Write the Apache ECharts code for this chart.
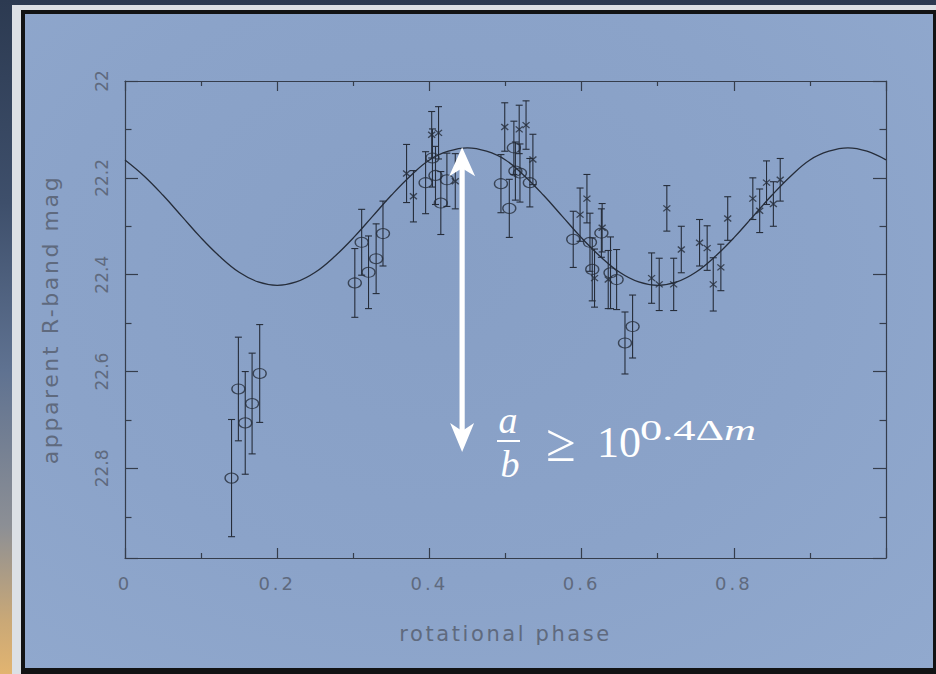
<!DOCTYPE html>
<html>
<head>
<meta charset="utf-8">
<script src="https://cdn.jsdelivr.net/npm/echarts@6/dist/echarts.min.js"></script>
<style>
html, body { margin: 0; padding: 0; }
body { width: 936px; height: 674px; position: relative; overflow: hidden;
  background: linear-gradient(to bottom, #2c3a51 0%, #3e4f6b 30%, #5f7291 55%, #8c8f95 78%, #c9a877 92%, #e2b470 100%); }
.f1 { position: absolute; left: 12px; top: 5px; right: 0; bottom: 0; background: #dce0e5; }
.f2 { position: absolute; left: 21px; top: 10px; right: 0; bottom: 0; background: #121314; }
.f3 { position: absolute; left: 25px; top: 14px; right: 3px; bottom: 6px;
  background: radial-gradient(ellipse at 45% 40%, #879fc5 0%, #8ba3c9 55%, #91a9ce 100%); }
#c { position: absolute; left: 0; top: 0; width: 936px; height: 674px; }
/* the original plot font is wide: add tracking to the axis texts */
#c text[style*="18px"] { letter-spacing: 3px; }
#c text[style*="21px"] { letter-spacing: 2.6px; }
#c text[style*="22px"] { letter-spacing: 2.6px; }
</style>
</head>
<body>
<div class="f1"></div><div class="f2"></div><div class="f3"></div>
<div id="c"></div>
<script>
// ---- data ----
// open circles (phase, magnitude, error)
const circlePhase = [0.140, 0.149, 0.158, 0.167, 0.177, 0.302, 0.311, 0.320, 0.330, 0.339,
  0.395, 0.404, 0.408, 0.415, 0.423, 0.494, 0.505, 0.511, 0.513, 0.519, 0.532,
  0.589, 0.611, 0.614, 0.626, 0.638, 0.646, 0.657, 0.667];
const circleMag = [22.820, 22.636, 22.706, 22.666, 22.604, 22.417, 22.333, 22.395, 22.367, 22.315,
  22.210, 22.159, 22.195, 22.252, 22.204, 22.212, 22.263, 22.138, 22.186, 22.190, 22.210,
  22.327, 22.333, 22.389, 22.314, 22.396, 22.410, 22.541, 22.507];
const circleErr = [0.121, 0.107, 0.106, 0.104, 0.101, 0.071, 0.068, 0.075, 0.072, 0.067,
  0.064, 0.060, 0.060, 0.065, 0.055, 0.060, 0.060, 0.055, 0.060, 0.060, 0.050,
  0.058, 0.060, 0.065, 0.050, 0.074, 0.062, 0.064, 0.065];
// crosses (phase, magnitude, error)
const crossPhase = [0.370, 0.379, 0.403, 0.412, 0.434, 0.499, 0.518, 0.527, 0.536,
  0.598, 0.607, 0.617, 0.627, 0.635, 0.692, 0.702, 0.712, 0.721, 0.731, 0.755, 0.765,
  0.773, 0.783, 0.792, 0.825, 0.834, 0.843, 0.852, 0.861];
const crossMag = [22.191, 22.238, 22.111, 22.107, 22.207, 22.095, 22.100, 22.091, 22.162,
  22.276, 22.243, 22.407, 22.303, 22.410, 22.407, 22.420, 22.263, 22.420, 22.348, 22.334, 22.345,
  22.420, 22.385, 22.284, 22.243, 22.268, 22.210, 22.254, 22.204];
const crossErr = [0.060, 0.053, 0.048, 0.054, 0.057, 0.050, 0.050, 0.050, 0.052,
  0.055, 0.050, 0.060, 0.050, 0.060, 0.052, 0.054, 0.047, 0.054, 0.048, 0.048, 0.046,
  0.055, 0.048, 0.045, 0.043, 0.045, 0.045, 0.046, 0.044];
// fitted light curve, read every 0.025 in phase
const curvePhase = [0, 0.025, 0.05, 0.075, 0.1, 0.125, 0.15, 0.175, 0.2, 0.225, 0.25, 0.275, 0.3, 0.325,
  0.35, 0.375, 0.4, 0.425, 0.45, 0.475, 0.5, 0.525, 0.55, 0.575, 0.6, 0.625, 0.65, 0.675, 0.7,
  0.725, 0.75, 0.775, 0.8, 0.825, 0.85, 0.875, 0.9, 0.925, 0.95, 0.975, 1.0];
const curveMag = [22.163, 22.196, 22.236, 22.280, 22.324, 22.363, 22.395, 22.415, 22.422, 22.415,
  22.395, 22.363, 22.324, 22.280, 22.236, 22.196, 22.163, 22.145, 22.138, 22.145, 22.163, 22.196,
  22.236, 22.280, 22.324, 22.363, 22.395, 22.415, 22.422, 22.415, 22.395, 22.363, 22.324, 22.280,
  22.236, 22.196, 22.163, 22.145, 22.138, 22.145, 22.163];
// amplitude arrow (phase, top magnitude, bottom magnitude)
const arrowPhase = [0.443];
const arrowTop = [22.137];
const arrowBottom = [22.766];
// tick labels
const xTickValues = [0, 0.2, 0.4, 0.6, 0.8];
const xTickLabels = ['0', '0.2', '0.4', '0.6', '0.8'];
const yTickValues = [22, 22.2, 22.4, 22.6, 22.8];
const yTickLabels = ['22', '22.2', '22.4', '22.6', '22.8'];
const xTitle = 'rotational phase';
const yTitle = 'apparent R-band mag';

// ---- styling ----
const INK = '#262d3a';
const AXIS = '#353d4c';
const LABEL = '#5f6a7e';
const FONT = 'DejaVu Sans';

function pick(values, labels) {
  return function (v) {
    for (let i = 0; i < values.length; i++) if (Math.abs(v - values[i]) < 1e-6) return labels[i];
    return '';
  };
}

function errorBars(phase, mag, err) {
  return {
    type: 'custom',
    xAxisIndex: 0, yAxisIndex: 0,
    clip: false,
    z: 3,
    data: phase.map((p, i) => [p, mag[i], err[i]]),
    encode: { x: 0, y: 1 },
    renderItem: function (params, api) {
      const x = api.value(0), y = api.value(1), e = api.value(2);
      const a = api.coord([x, y - e]);
      const b = api.coord([x, y + e]);
      const cap = 3.5;
      const st = { stroke: INK, lineWidth: 1.1 };
      return {
        type: 'group',
        children: [
          { type: 'line', shape: { x1: a[0], y1: a[1], x2: b[0], y2: b[1] }, style: st },
          { type: 'line', shape: { x1: a[0] - cap, y1: a[1], x2: a[0] + cap, y2: a[1] }, style: st },
          { type: 'line', shape: { x1: b[0] - cap, y1: b[1], x2: b[0] + cap, y2: b[1] }, style: st }
        ]
      };
    }
  };
}

const baseX = {
  type: 'value', min: 0, max: 1, interval: 0.2,
  axisLine: { show: true, onZero: false, lineStyle: { color: AXIS, width: 1.2 } },
  axisTick: { show: true, inside: true, length: 10, lineStyle: { color: AXIS, width: 1.2 } },
  minorTick: { show: true, splitNumber: 2, length: 5, lineStyle: { color: AXIS, width: 1.2 } },
  splitLine: { show: false }, minorSplitLine: { show: false }
};
const baseY = {
  type: 'value', min: 22, max: 22.985, interval: 0.2, inverse: true,
  axisLine: { show: true, onZero: false, lineStyle: { color: AXIS, width: 1.2 } },
  axisTick: { show: true, inside: true, length: 13, lineStyle: { color: AXIS, width: 1.2 } },
  minorTick: { show: true, splitNumber: 2, length: 6.5, lineStyle: { color: AXIS, width: 1.2 } },
  splitLine: { show: false }, minorSplitLine: { show: false }
};

const chart = echarts.init(document.getElementById('c'), null, { renderer: 'svg' });
chart.setOption({
  backgroundColor: 'transparent',
  animation: false,
  grid: { left: 125, right: 50, top: 81, bottom: 116, containLabel: false },
  xAxis: [
    Object.assign({}, baseX, {
      position: 'bottom',
      axisLabel: { show: true, formatter: pick(xTickValues, xTickLabels), color: LABEL,
        fontFamily: FONT, fontSize: 18, margin: 16, showMaxLabel: false },
      name: xTitle, nameLocation: 'middle', nameGap: 65,
      nameTextStyle: { color: LABEL, fontFamily: FONT, fontSize: 21 }
    }),
    Object.assign({}, baseX, { position: 'top', axisLabel: { show: false } })
  ],
  yAxis: [
    Object.assign({}, baseY, {
      position: 'left',
      axisLabel: { show: true, rotate: 90, formatter: pick(yTickValues, yTickLabels), color: LABEL,
        fontFamily: FONT, fontSize: 17, margin: 15, showMaxLabel: false },
      name: yTitle, nameLocation: 'middle', nameGap: 64, nameRotate: 90,
      nameTextStyle: { color: LABEL, fontFamily: FONT, fontSize: 22 }
    }),
    Object.assign({}, baseY, { position: 'right', axisLabel: { show: false } })
  ],
  series: [
    {
      type: 'line', name: 'fit', xAxisIndex: 0, yAxisIndex: 0,
      data: curvePhase.map((p, i) => [p, curveMag[i]]),
      smooth: 0.4, showSymbol: false, symbol: 'none', z: 2,
      lineStyle: { color: INK, width: 1.3 }
    },
    errorBars(circlePhase, circleMag, circleErr),
    errorBars(crossPhase, crossMag, crossErr),
    {
      type: 'scatter', name: 'circles', xAxisIndex: 0, yAxisIndex: 0, z: 4,
      data: circlePhase.map((p, i) => [p, circleMag[i]]),
      symbol: 'circle', symbolSize: [13, 10],
      itemStyle: { color: 'rgba(0,0,0,0)', borderColor: INK, borderWidth: 1.2 }
    },
    {
      type: 'scatter', name: 'crosses', xAxisIndex: 0, yAxisIndex: 0, z: 4,
      data: crossPhase.map((p, i) => [p, crossMag[i]]),
      symbol: 'path://M0,0L10,10M10,0L0,10', symbolSize: [7, 6],
      itemStyle: { color: 'rgba(0,0,0,0)', borderColor: INK, borderWidth: 1.3 }
    },
    {
      type: 'custom', name: 'amplitude', xAxisIndex: 0, yAxisIndex: 0, z: 10, clip: false,
      data: arrowPhase.map((p, i) => [p, arrowTop[i], arrowBottom[i]]),
      encode: { x: 0, y: 1 },
      renderItem: function (params, api) {
        const t = api.coord([api.value(0), api.value(1)]);
        const b = api.coord([api.value(0), api.value(2)]);
        const hw = 13, hh = 29, notch = 8, sw = 2.6;
        return {
          type: 'group',
          children: [
            { type: 'rect', shape: { x: t[0] - sw, y: t[1] + hh - notch - 1, width: 2 * sw,
                height: (b[1] - t[1]) - 2 * (hh - notch - 1) }, style: { fill: '#ffffff' } },
            { type: 'polygon', shape: { points: [[t[0], t[1]], [t[0] + hw, t[1] + hh], [t[0], t[1] + hh - notch], [t[0] - hw, t[1] + hh]] },
              style: { fill: '#ffffff' } },
            { type: 'polygon', shape: { points: [[b[0], b[1]], [b[0] + hw - 1, b[1] - hh], [b[0], b[1] - hh + notch], [b[0] - hw + 1, b[1] - hh]] },
              style: { fill: '#ffffff' } }
          ]
        };
      }
    }
  ],
  graphic: [
    { type: 'text', x: 508, y: 420, z: 20,
      style: { text: 'a', fill: '#ffffff', font: 'italic 38px "Liberation Serif"', textAlign: 'center', textVerticalAlign: 'middle' } },
    { type: 'rect', z: 20, shape: { x: 497, y: 440, width: 23, height: 2 }, style: { fill: '#ffffff' } },
    { type: 'text', x: 510, y: 464, z: 20,
      style: { text: 'b', fill: '#ffffff', font: 'italic 38px "Liberation Serif"', textAlign: 'center', textVerticalAlign: 'middle' } },
    { type: 'text', x: 561, y: 443, z: 20,
      style: { text: '≥', fill: '#ffffff', font: '54px "Liberation Serif"', textAlign: 'center', textVerticalAlign: 'middle' } },
    { type: 'text', x: 597, y: 442, z: 20,
      style: { text: '10', fill: '#ffffff', font: '44px "Liberation Serif"', textAlign: 'left', textVerticalAlign: 'middle' } },
    { type: 'text', x: 640, y: 430, z: 20, scaleX: 1.48,
      style: { text: '{n|0.4Δ}{i|m}', fill: '#ffffff', textAlign: 'left', textVerticalAlign: 'middle',
        rich: { n: { font: '30px "Liberation Serif"', fill: '#ffffff' }, i: { font: 'italic 30px "Liberation Serif"', fill: '#ffffff' } } } }
  ]
});
</script>
</body>
</html>
